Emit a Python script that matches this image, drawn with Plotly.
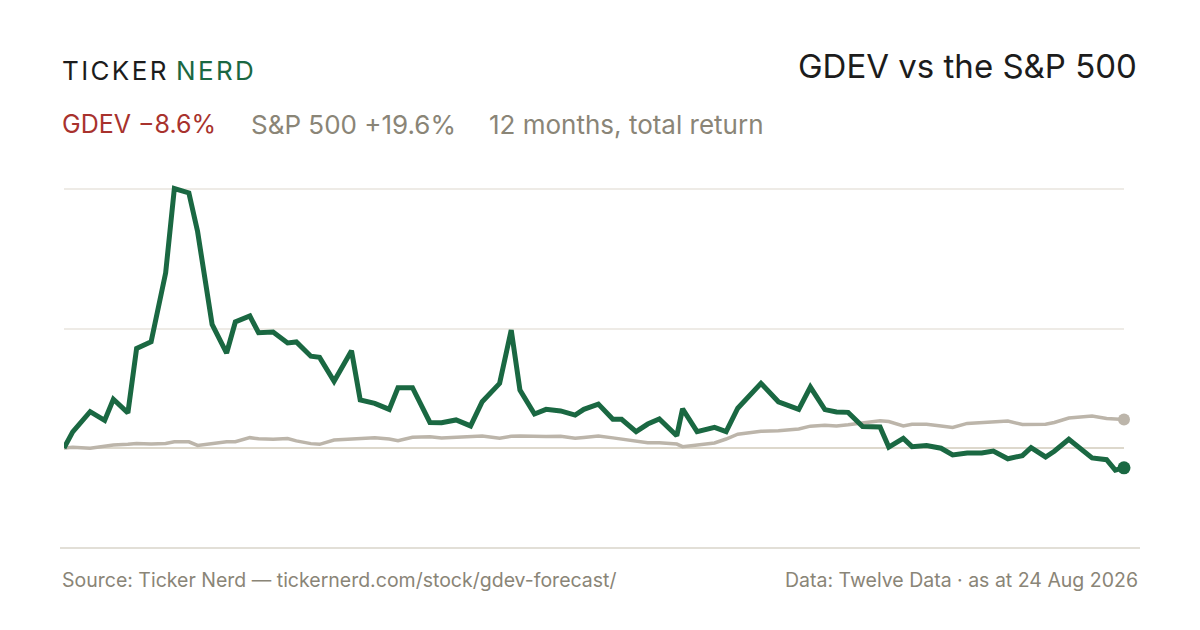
import pandas as pd
import plotly.graph_objects as go

# Days since the start of the 12 month window (24 Aug 2025)
days = [0, 3, 9, 14, 17, 22, 25, 30, 35, 38, 43, 46, 51, 56, 59, 64, 67, 72, 77, 80,
        85, 88, 93, 99, 102, 107, 112, 115, 120, 126, 130, 135, 140, 144, 150, 154, 157, 162, 166, 171,
        176, 179, 184, 189, 192, 197, 201, 205, 211, 213, 218, 224, 228, 232, 240, 246, 253, 257, 262, 266,
        270, 275, 281, 284, 289, 292, 297, 302, 306, 311, 316, 320, 325, 330, 333, 338, 341, 346, 354, 359,
        362, 365]

# cumulative return, %
gdev = [0.0, 7.0, 15.8, 12.0, 21.2, 15.3, 43.3, 46.2, 76.1, 112.8, 110.9, 94.1, 53.7, 41.3, 54.8, 57.4, 50.1, 50.4, 45.7, 46.1,
        39.9, 39.4, 29.0, 42.3, 20.9, 19.4, 16.8, 26.2, 26.2, 11.1, 11.0, 12.2, 9.6, 20.1, 28.1, 51.3, 25.2, 14.8, 16.8, 16.1,
        14.3, 16.8, 19.1, 12.5, 12.5, 7.1, 10.4, 12.6, 5.3, 17.0, 7.1, 9.0, 7.1, 17.3, 28.1, 20.1, 16.8, 26.5, 16.7, 15.7,
        15.5, 9.3, 9.1, 0.4, 4.2, 0.6, 1.1, -0.1, -3.0, -2.2, -2.2, -1.3, -4.7, -3.3, 0.2, -3.9, -1.4, 3.8, -4.3, -5.1,
        -9.6, -8.6]

spx = [0.0, 0.3, -0.1, 0.6, 1.3, 1.6, 2.0, 1.7, 2.0, 2.7, 2.7, 1.1, 2.0, 2.7, 2.7, 4.5, 4.0, 3.8, 4.1, 3.1,
       1.9, 1.6, 3.5, 3.8, 4.3, 4.5, 3.9, 3.2, 4.7, 4.9, 4.4, 4.7, 5.0, 5.2, 4.2, 5.1, 5.2, 4.9, 5.0, 5.1,
       4.2, 4.6, 5.2, 4.4, 3.8, 2.9, 2.3, 2.3, 1.7, 0.6, 1.2, 2.2, 3.9, 6.0, 7.3, 7.5, 8.3, 9.5, 9.9, 9.6,
       10.1, 11.0, 11.8, 11.5, 9.6, 10.3, 10.3, 9.6, 8.9, 10.7, 11.0, 11.6, 11.7, 10.2, 10.1, 10.3, 11.1, 13.0, 13.9, 12.8,
       12.6, 12.4]

start = pd.Timestamp("2025-08-24")
dates = [start + pd.Timedelta(days=d) for d in days]

GREEN = "#1a6842"
SAND = "#bcb5aa"
RED = "#a8322d"
GREY = "#8a8577"
INK = "#1c1c1c"
FONT = "Inter"

# the page puts the figure 8px in from the corner; positions below are page pixels
OFF = 8
L, R, T, B = 64 - OFF, 1200 - 1124 + OFF, 170 - OFF, 630 - 530 + OFF
PW, PH = 1200 - L - R, 630 - T - B


def px(x):
    return (x - OFF - L) / PW


def py(y):
    return (630 - B - (y - OFF)) / PH


fig = go.Figure()
fig.add_trace(go.Scatter(x=dates, y=spx, mode="lines", name="S&P 500",
                         line=dict(color=SAND, width=3.5)))
fig.add_trace(go.Scatter(x=dates, y=gdev, mode="lines", name="GDEV",
                         line=dict(color=GREEN, width=5)))
fig.add_trace(go.Scatter(x=[dates[-1]], y=[spx[-1]], mode="markers", cliponaxis=False,
                         marker=dict(color=SAND, size=12)))
fig.add_trace(go.Scatter(x=[dates[-1]], y=[gdev[-1]], mode="markers", cliponaxis=False,
                         marker=dict(color=GREEN, size=13)))

hi, lo = max(gdev), min(gdev)
grid = [(hi + lo) / 2, hi]

hs = "\u200a"
logo = hs.join("TICKER") + hs + " " + "<span style='color:%s'>%s</span>" % (GREEN, hs.join("NERD"))

notes = [
    dict(text=logo, x=px(60), y=py(70), xanchor="left", font=dict(size=26, color=INK)),
    dict(text="GDEV vs the S&P 500", x=px(1139), y=py(66), xanchor="right",
         font=dict(size=33, color=INK)),
    dict(text="GDEV \u22128.6%", x=px(60), y=py(124), xanchor="left",
         font=dict(size=25, color=RED)),
    dict(text="S&P 500 +19.6%", x=px(249), y=py(124), xanchor="left",
         font=dict(size=26, color=GREY)),
    dict(text="12 months, total return", x=px(487), y=py(124), xanchor="left",
         font=dict(size=26, color=GREY)),
    dict(text="Source: Ticker Nerd \u2014 tickernerd.com/stock/gdev-forecast/", x=px(60), y=py(580),
         xanchor="left", font=dict(size=19.5, color=GREY)),
    dict(text="Data: Twelve Data \u00b7 as at 24 Aug 2026", x=px(1140), y=py(580),
         xanchor="right", font=dict(size=19.5, color=GREY)),
]
for n in notes:
    n.update(xref="paper", yref="paper", yanchor="middle", showarrow=False)

fig.update_layout(
    width=1200, height=630,
    margin=dict(l=L, r=R, t=T, b=B),
    paper_bgcolor="white", plot_bgcolor="white",
    showlegend=False,
    font=dict(family=FONT),
    annotations=notes,
    shapes=[dict(type="line", xref="paper", yref="paper",
                 x0=px(60), x1=px(1140), y0=py(548), y1=py(548),
                 line=dict(color="#e2dfd7", width=2))],
    xaxis=dict(range=[dates[0], dates[-1]], showgrid=False, showticklabels=False,
               zeroline=False, showline=False, ticks=""),
    yaxis=dict(range=[(448 - 530) / 2.3, (448 - 170) / 2.3], tickvals=grid,
               showticklabels=False, gridcolor="#eeebe6", gridwidth=1.5,
               zeroline=True, zerolinecolor="#ddd8cc", zerolinewidth=1.5,
               showline=False, ticks=""),
)

fig.write_html("out.html")
